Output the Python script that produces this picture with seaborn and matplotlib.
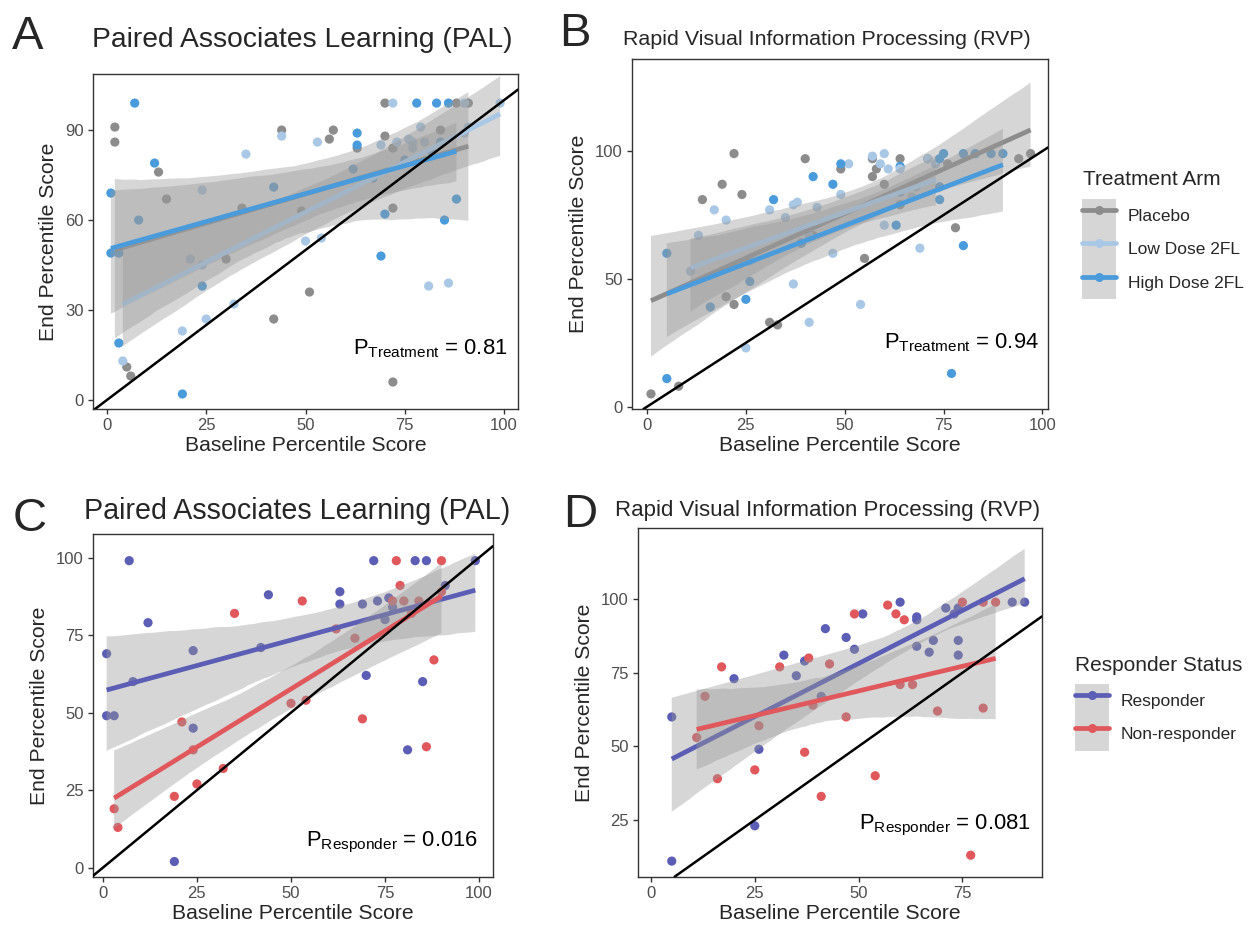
import numpy as np
import pandas as pd
import matplotlib
matplotlib.use("Agg")
import matplotlib.pyplot as plt
from matplotlib.lines import Line2D
from matplotlib.patches import Patch
from matplotlib.legend_handler import HandlerTuple
import seaborn as sns

# ---------------- data ----------------
arm_order = ["Placebo", "Low Dose 2FL", "High Dose 2FL"]
status_order = ["Responder", "Non-responder"]

# PAL, placebo arm
pal_placebo_base = [2, 2, 5, 6, 13, 15, 30, 34, 42, 44, 49, 51, 56, 57, 63, 70, 70, 72, 72, 72, 84, 88, 91]
pal_placebo_end = [91, 86, 11, 8, 76, 67, 47, 64, 27, 90, 63, 36, 87, 90, 84, 88, 99, 84, 64, 6, 90, 99, 99]

# PAL, 2FL arms (L = low dose, H = high dose; R = responder, N = non-responder)
pal_2fl_base = [7, 12, 1, 1, 3, 8, 24, 24, 19, 44, 42, 63, 63, 69, 72, 73, 76, 75, 77, 70, 81, 85, 83, 86, 91, 99,
                3, 4, 19, 21, 24, 25, 32, 35, 50, 54, 53, 62, 67, 69, 78, 79, 77, 80, 82, 84, 88, 86, 90, 90]
pal_2fl_end = [99, 79, 69, 49, 49, 60, 70, 45, 2, 88, 71, 89, 85, 85, 99, 86, 87, 80, 84, 62, 38, 60, 99, 99, 91, 99,
               19, 13, 23, 47, 38, 27, 32, 82, 53, 54, 86, 77, 74, 48, 99, 91, 86, 86, 82, 86, 67, 39, 99, 89]
pal_2fl_arm = list("HHHHHHLLHLHHHLLLLHLHLHHHLL" "HLLLHLLLLLLHHHHLLLHHHLLL")
pal_2fl_status = list("R" * 26 + "N" * 24)

# RVP, placebo arm
rvp_placebo_base = [1, 8, 14, 19, 20, 22, 22, 24, 31, 33, 39, 40, 42, 49, 55, 57, 57, 58, 60, 64, 64, 71, 76, 78, 94, 97]
rvp_placebo_end = [5, 8, 81, 87, 43, 99, 40, 83, 33, 32, 64, 97, 67, 93, 58, 97, 90, 93, 87, 97, 79, 97, 95, 70, 97, 99]

# RVP, 2FL arms
rvp_2fl_base = [5, 5, 20, 25, 26, 32, 35, 37, 41, 42, 47, 49, 51, 60, 64, 64, 64, 67, 68, 71, 73, 74, 74, 74, 87, 90,
                11, 13, 16, 17, 25, 26, 31, 37, 38, 39, 41, 43, 47, 49, 54, 57, 59, 60, 61, 63, 69, 75, 77, 80, 80, 83]
rvp_2fl_end = [60, 11, 73, 23, 49, 81, 74, 79, 67, 90, 87, 83, 95, 99, 94, 93, 84, 82, 86, 97, 95, 97, 86, 81, 99, 99,
               53, 67, 39, 77, 42, 57, 77, 48, 80, 64, 33, 78, 60, 95, 40, 98, 95, 71, 93, 71, 62, 99, 13, 63, 99, 99]
rvp_2fl_arm = list("HHLLHHLLLHHLLLHLHLLLLHHHHH" "LLHLHLLLLHLLLHLLLLLHLHHHHH")
rvp_2fl_status = list("R" * 26 + "N" * 26)

p_labels = {"A": "0.81", "B": "0.94", "C": "0.016", "D": "0.081"}

arm_codes = {"L": "Low Dose 2FL", "H": "High Dose 2FL"}
status_codes = {"R": "Responder", "N": "Non-responder"}


def build(placebo_x, placebo_y, tx, ty, tarm, tstat):
    placebo = pd.DataFrame({"baseline": placebo_x, "end": placebo_y,
                            "arm": "Placebo", "status": None})
    treated = pd.DataFrame({"baseline": tx, "end": ty,
                            "arm": [arm_codes[a] for a in tarm],
                            "status": [status_codes[s] for s in tstat]})
    return pd.concat([placebo, treated], ignore_index=True), treated


pal_all, pal_treated = build(pal_placebo_base, pal_placebo_end, pal_2fl_base, pal_2fl_end, pal_2fl_arm, pal_2fl_status)
rvp_all, rvp_treated = build(rvp_placebo_base, rvp_placebo_end, rvp_2fl_base, rvp_2fl_end, rvp_2fl_arm, rvp_2fl_status)

arm_colors = {"Placebo": "#8c8c8c", "Low Dose 2FL": "#a9c8e6", "High Dose 2FL": "#4a9bdb"}
status_colors = {"Responder": "#5b5eb4", "Non-responder": "#e0575c"}

# ---------------- style ----------------
sns.set_style("white")
plt.rcParams["font.family"] = ["Liberation Sans", "DejaVu Sans"]
plt.rcParams["mathtext.fontset"] = "custom"
plt.rcParams["mathtext.rm"] = "Liberation Sans"

RIBBON = "#999999"
AXCOL = "#333333"
TICKCOL = "#4d4d4d"

fig = plt.figure(figsize=(12.48, 9.27), dpi=100)
W, H = 1248.0, 927.0


def add_axes(left, top, right, bottom):
    return fig.add_axes([left / W, 1 - bottom / H, (right - left) / W, (bottom - top) / H])


axA = add_axes(93, 74, 518, 409)
axB = add_axes(632, 59, 1048, 409)
axC = add_axes(92.7, 534, 493, 876.7)
axD = add_axes(637.7, 528.3, 1041.7, 876.7)


def draw_panel(ax, df, hue, order, palette, seed):
    sns.scatterplot(data=df, x="baseline", y="end", hue=hue, hue_order=order, palette=palette,
                    s=44, edgecolor="none", linewidth=0, legend=False, ax=ax, zorder=1)
    for i, level in enumerate(order):
        sub = df[df[hue] == level]
        nc, nl = len(ax.collections), len(ax.lines)
        sns.regplot(data=sub, x="baseline", y="end", ax=ax, scatter=False, ci=95, n_boot=2000,
                    seed=seed + i, color=palette[level], truncate=True,
                    line_kws=dict(lw=3.4, solid_capstyle="butt"))
        for coll in ax.collections[nc:]:
            coll.set_alpha(0.4)
            coll.set_facecolor(RIBBON)
            coll.set_edgecolor("none")
            coll.set_zorder(2 + 2 * i)
        for ln in ax.lines[nl:]:
            ln.set_zorder(3 + 2 * i)
    ax.axline((0, 0), slope=1, color="black", lw=1.8, zorder=20)


draw_panel(axA, pal_all, "arm", arm_order, arm_colors, 11)
draw_panel(axB, rvp_all, "arm", arm_order, arm_colors, 21)
draw_panel(axC, pal_treated, "status", status_order, status_colors, 31)
draw_panel(axD, rvp_treated, "status", status_order, status_colors, 41)

limits = {
    axA: ((-3.5, 103.5), (-3, 108.7), [0, 25, 50, 75, 100], [0, 30, 60, 90]),
    axB: ((-3.8, 101.4), (-0.9, 136), [0, 25, 50, 75, 100], [0, 50, 100]),
    axC: ((-2.7, 103.7), (-2.9, 107.6), [0, 25, 50, 75, 100], [0, 25, 50, 75, 100]),
    axD: ((-3.2, 94.1), (5.7, 124.1), [0, 25, 50, 75], [25, 50, 75, 100]),
}
for ax, (xl, yl, xt, yt) in limits.items():
    ax.set_xlim(*xl)
    ax.set_ylim(*yl)
    ax.set_xticks(xt)
    ax.set_yticks(yt)
    ax.set_xlabel("Baseline Percentile Score", fontsize=15.2, labelpad=2)
    ax.set_ylabel("End Percentile Score", fontsize=15.2, labelpad=5)
    ax.tick_params(direction="out", length=3.5, width=1.0, color=AXCOL, labelcolor=TICKCOL,
                   labelsize=12, pad=3, bottom=True, left=True)
    for sp in ax.spines.values():
        sp.set_visible(True)
        sp.set_color(AXCOL)
        sp.set_linewidth(1.0)
    ax.grid(False)

# annotations with the treatment / responder p-values
ann = [
    (axA, 0.976, 0.164, "Treatment", p_labels["A"]),
    (axB, 0.978, 0.173, "Treatment", p_labels["B"]),
    (axC, 0.9625, 0.0896, "Responder", p_labels["C"]),
    (axD, 0.973, 0.136, "Responder", p_labels["D"]),
]
for ax, xf, yf, sub, val in ann:
    ax.text(xf, yf, r"$\mathregular{P_{%s}}$ = %s" % (sub, val), transform=ax.transAxes,
            ha="right", va="baseline", fontsize=15.8, color="black", zorder=30)

# panel letters and titles
for x, y, s in [(12, 49, "A"), (559, 46, "B"), (13, 531, "C"), (563, 527, "D")]:
    fig.text(x / W, 1 - y / H, s, fontsize=34, ha="left", va="baseline")
for x, y, s, fs in [(92, 47, "Paired Associates Learning (PAL)", 20.3),
                    (623, 45, "Rapid Visual Information Processing (RVP)", 15.4),
                    (84, 518.7, "Paired Associates Learning (PAL)", 20.6),
                    (615, 516, "Rapid Visual Information Processing (RVP)", 16)]:
    fig.text(x / W, 1 - y / H, s, fontsize=fs, ha="left", va="baseline")

LEG_FS = 12.5


def make_legend(order, palette, title, tx, ty, kx, ky):
    fig.text(tx / W, 1 - ty / H, title, fontsize=15, ha="left", va="baseline")
    handles = [(Patch(facecolor=RIBBON, alpha=0.4, edgecolor="none"),
                Line2D([], [], color=palette[k], lw=3.4, marker="o", markersize=6.5,
                       markeredgewidth=0)) for k in order]
    leg = fig.legend(handles, order, loc="upper left",
                     bbox_to_anchor=(kx / W, 1 - ky / H), frameon=False,
                     handler_map={tuple: HandlerTuple(ndivide=1)},
                     handlelength=1.95, handleheight=2.59, labelspacing=0.0,
                     borderpad=0.0, borderaxespad=0.0, handletextpad=0.7,
                     fontsize=LEG_FS)
    return leg


make_legend(arm_order, arm_colors, "Treatment Arm", 1083, 185, 1082, 199)
make_legend(status_order, status_colors, "Responder Status", 1075, 671, 1075, 684)

fig.savefig("out.png", dpi=100, facecolor="white")
